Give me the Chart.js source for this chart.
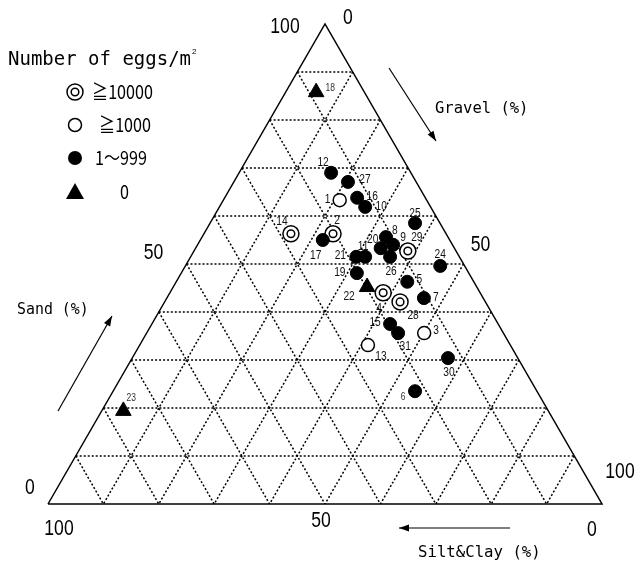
<!DOCTYPE html>
<html>
<head>
<meta charset="utf-8">
<script src="https://cdn.jsdelivr.net/npm/chart.js@4.4.0/dist/chart.umd.min.js"></script>
<style>body{margin:0;background:#fff}</style>
</head>
<body>
<canvas id="c" width="637" height="566"></canvas>
<script>
// station numbers and sediment composition (%)
const stations = [1,2,3,4,5,6,7,8,9,10,11,12,13,14,15,16,17,18,19,20,21,22,23,24,25,26,27,28,29,30,31];
const sand   = [63.3,56.3,35.6,44.0,46.3,23.5,42.9,55.6,54.0,61.9,51.5,69.0,33.1,56.3,37.5,63.8,55.0,85.8,48.1,53.3,51.5,45.2,19.4,49.6,58.5,51.5,67.1,42.1,52.7,30.4,35.6];
const gravel = [21.0,23.3,50.1,38.5,41.7,54.5,46.4,33.2,35.3,26.3,31.5,16.6,41.2,15.7,43.0,23.9,22.1,5.5,31.7,33.4,29.9,35.0,3.9,46.0,37.0,36.0,20.6,42.5,38.6,57.0,45.4];
const siltClay = [15.7,20.4,14.3,17.5,12.0,22.0,10.7,11.2,10.7,11.8,17.0,14.4,25.7,28.0,19.5,12.3,22.9,8.7,20.2,13.3,18.6,19.8,76.7,4.4,4.5,12.5,12.3,15.4,8.7,12.6,19.0];
// egg class: A >=10000, B >=1000, C 1-999, D 0
const eggClass = ['B','A','B','A','C','C','C','C','C','C','C','C','B','A','C','C','C','D','C','C','C','D','D','C','C','C','C','A','A','C','C'];
const gridSteps = [10,20,30,40,50,60,70,80,90];

// label offsets (px) for station numbers
const labelOffset = {1:[-12,0],2:[4,-13],3:[12,-2],4:[-4,16],5:[12,-2],6:[-12,6],7:[12,0],8:[9,-6],9:[10,-7],10:[16,0],
  11:[-2,-10],12:[-8,-10],13:[13,12],14:[-9,-12],15:[-15,-1],16:[15,-1],17:[-7,16],18:[14,-4],19:[-17,0],20:[-8,-8],
  21:[-16,-1],22:[-18,10],23:[8,-13],24:[0,-11],25:[0,-10],26:[1,15],27:[17,-2],28:[13,14],29:[9,-13],30:[1,15],31:[7,14]};
const smallLabels = [6,18,23];

// ternary -> cartesian: x = gravel + sand/2, y = sand
function tern(s, g) { return {x: g + s / 2, y: s}; }

function pointsOf(cls) {
  const out = [];
  stations.forEach((st, i) => {
    if (eggClass[i] === cls) out.push({...tern(sand[i], gravel[i]), st: st});
  });
  return out;
}

const datasets = [];
// grid lines
gridSteps.forEach(k => {
  const lines = [
    [tern(k, 0), tern(k, 100 - k)],          // constant sand
    [tern(100 - k, k), tern(0, k)],          // constant gravel
    [tern(100 - k, 0), tern(0, 100 - k)]     // constant silt&clay
  ];
  lines.forEach(l => datasets.push({
    type: 'line', data: l, borderColor: '#000', borderWidth: 1.5, borderDash: [2, 2],
    pointRadius: 0, fill: false, order: 6, clip: false
  }));
});
// triangle edges
datasets.push({
  type: 'line', data: [tern(0, 0), tern(0, 100), tern(100, 0), tern(0, 0)],
  borderColor: '#000', borderWidth: 1.5, pointRadius: 0, fill: false, order: 5, clip: false
});
// points
datasets.push({ data: pointsOf('C'), pointStyle: 'circle', pointRadius: 6.5, backgroundColor: '#000', borderColor: '#000', borderWidth: 1, order: 1, clip: false });
datasets.push({ data: pointsOf('B'), pointStyle: 'circle', pointRadius: 6.5, backgroundColor: '#fff', borderColor: '#000', borderWidth: 1.5, order: 1, clip: false });
datasets.push({ data: pointsOf('A'), pointStyle: 'circle', pointRadius: 8, backgroundColor: '#fff', borderColor: '#000', borderWidth: 1.5, order: 1, clip: false });
datasets.push({ data: pointsOf('A'), pointStyle: 'circle', pointRadius: 3.8, backgroundColor: '#fff', borderColor: '#000', borderWidth: 1.5, order: 0, clip: false });
datasets.push({ data: pointsOf('D'), pointStyle: 'triangle', pointRadius: 9, backgroundColor: '#000', borderColor: '#000', borderWidth: 1, order: 1, clip: false });

function txt(ctx, s, x, y, font, sx, align) {
  ctx.save();
  ctx.font = font;
  ctx.textBaseline = 'middle';
  ctx.textAlign = align || 'center';
  ctx.translate(x, y);
  ctx.scale(sx || 1, 1);
  ctx.fillText(s, 0, 0);
  ctx.restore();
}

function arrow(ctx, x1, y1, x2, y2) {
  const a = Math.atan2(y2 - y1, x2 - x1);
  ctx.save();
  ctx.strokeStyle = '#000';
  ctx.fillStyle = '#000';
  ctx.lineWidth = 1.2;
  ctx.beginPath();
  ctx.moveTo(x1, y1);
  ctx.lineTo(x2, y2);
  ctx.stroke();
  ctx.beginPath();
  ctx.moveTo(x2, y2);
  ctx.lineTo(x2 - 10 * Math.cos(a) + 3.5 * Math.sin(a), y2 - 10 * Math.sin(a) - 3.5 * Math.cos(a));
  ctx.lineTo(x2 - 10 * Math.cos(a) - 3.5 * Math.sin(a), y2 - 10 * Math.sin(a) + 3.5 * Math.cos(a));
  ctx.closePath();
  ctx.fill();
  ctx.restore();
}

const annotations = {
  id: 'annotations',
  afterDraw(chart) {
    const ctx = chart.ctx;
    const xs = chart.scales.x, ys = chart.scales.y;
    const apex = {x: xs.getPixelForValue(50), y: ys.getPixelForValue(100)};
    const bl = {x: xs.getPixelForValue(0), y: ys.getPixelForValue(0)};
    const br = {x: xs.getPixelForValue(100), y: ys.getPixelForValue(0)};
    ctx.fillStyle = '#000';

    // station labels
    chart.data.datasets.forEach((ds, di) => {
      if (ds.type === 'line' || ds.pointRadius === 3.8) return;
      const meta = chart.getDatasetMeta(di);
      meta.data.forEach((el, j) => {
        const st = ds.data[j].st;
        const off = labelOffset[st];
        const small = smallLabels.includes(st);
        ctx.fillStyle = small ? '#333' : '#111';
        txt(ctx, String(st), el.x + off[0], el.y + off[1], (small ? '10px' : '12px') + ' "Liberation Sans"', 0.85);
      });
    });
    ctx.fillStyle = '#000';

    // tick labels
    const tf = '22px "Liberation Sans"';
    txt(ctx, '100', apex.x - 40, apex.y + 3, tf, 0.8);
    txt(ctx, '0', apex.x + 23, apex.y - 6, tf, 0.8);
    txt(ctx, '50', (apex.x + bl.x) / 2 - 33, (apex.y + bl.y) / 2 - 11, tf, 0.8);
    txt(ctx, '0', bl.x - 18, bl.y - 16, tf, 0.8);
    txt(ctx, '100', bl.x + 11, bl.y + 25, tf, 0.8);
    txt(ctx, '50', (bl.x + br.x) / 2 - 4, bl.y + 17, tf, 0.8);
    txt(ctx, '0', br.x - 10, br.y + 26, tf, 0.8);
    txt(ctx, '100', br.x + 18, br.y - 32, tf, 0.8);
    txt(ctx, '50', (apex.x + br.x) / 2 + 17, (apex.y + br.y) / 2 - 19, tf, 0.8);

    // axis titles
    const af = '16px "DejaVu Sans Mono"';
    txt(ctx, 'Gravel (%)', apex.x + 110, apex.y + 85, af, 0.97, 'left');
    txt(ctx, 'Sand (%)', bl.x - 31, bl.y - 194, af, 0.93, 'left');
    txt(ctx, 'Silt&Clay (%)', br.x - 184, br.y + 49, af, 0.98, 'left');

    arrow(ctx, apex.x + 64, apex.y + 44, apex.x + 111, apex.y + 117);
    arrow(ctx, bl.x + 10, bl.y - 93, bl.x + 64, bl.y - 188);
    arrow(ctx, br.x - 92, br.y + 24, br.x - 203, br.y + 24);

    // legend
    txt(ctx, 'Number of eggs/m', 8, 60, '20px "DejaVu Sans Mono"', 0.95, 'left');
    txt(ctx, '2', 192, 52, '8px "Liberation Sans"', 1, 'left');
    const lx = 75;
    ctx.save();
    ctx.strokeStyle = '#000';
    ctx.lineWidth = 1.5;
    ctx.beginPath(); ctx.arc(lx, 92, 8, 0, Math.PI * 2); ctx.stroke();
    ctx.beginPath(); ctx.arc(lx, 92, 3.8, 0, Math.PI * 2); ctx.stroke();
    ctx.beginPath(); ctx.arc(lx, 125, 6.5, 0, Math.PI * 2); ctx.stroke();
    ctx.beginPath(); ctx.arc(lx, 158, 7, 0, Math.PI * 2); ctx.fill();
    ctx.beginPath(); ctx.moveTo(lx, 183); ctx.lineTo(lx + 9, 199); ctx.lineTo(lx - 9, 199); ctx.closePath(); ctx.fill();
    ctx.restore();
    const lf = '19px "Noto Sans CJK JP"';
    txt(ctx, '≧10000', 92, 92, lf, 0.85, 'left');
    txt(ctx, '≧1000', 99, 125, lf, 0.85, 'left');
    txt(ctx, '1～999', 95, 158, lf, 0.85, 'left');
    txt(ctx, '0', 120, 192, lf, 0.85, 'left');
  }
};

new Chart(document.getElementById('c'), {
  type: 'scatter',
  data: { datasets: datasets },
  options: {
    responsive: false,
    animation: false,
    layout: { padding: { left: 48, right: 35, top: 24, bottom: 62 } },
    scales: {
      x: { type: 'linear', min: 0, max: 100, display: false },
      y: { type: 'linear', min: 0, max: 100, display: false }
    },
    plugins: { legend: { display: false }, tooltip: { enabled: false } }
  },
  plugins: [annotations]
});
</script>
</body>
</html>
